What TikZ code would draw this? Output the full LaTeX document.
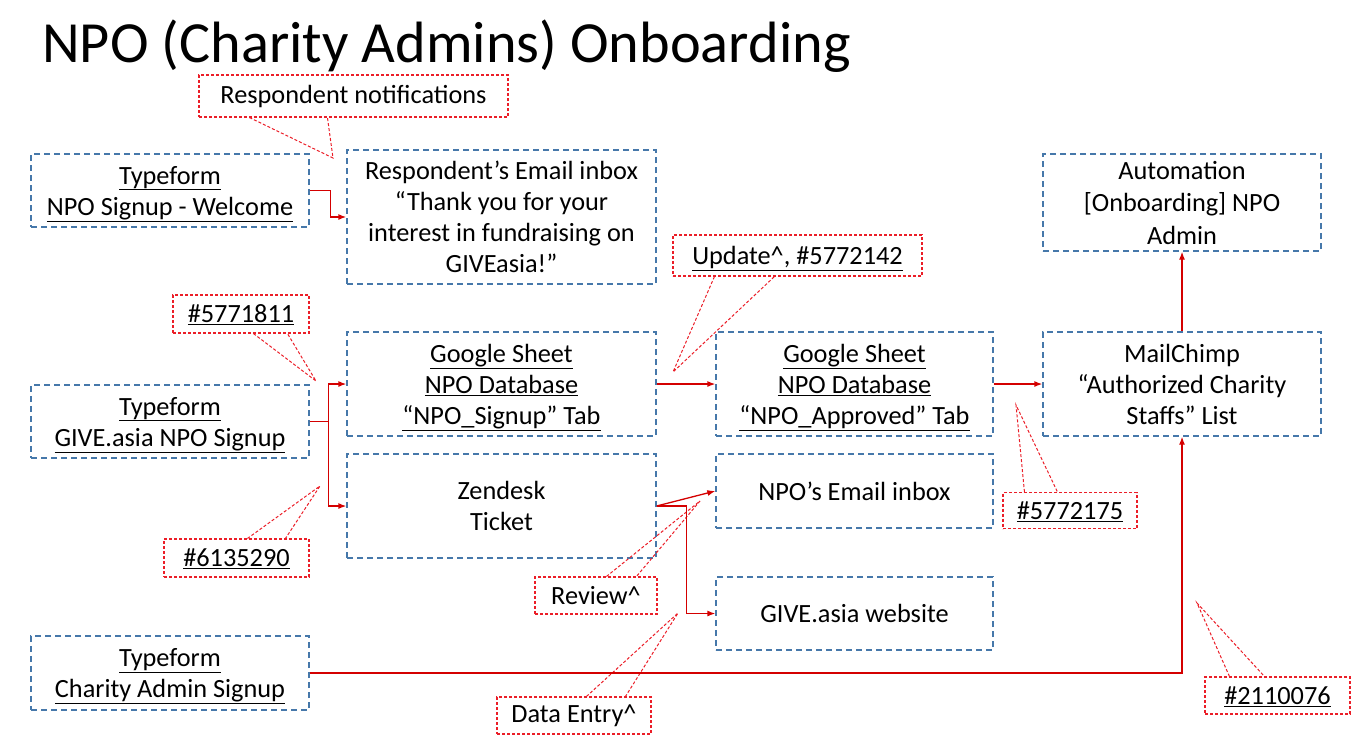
\documentclass[tikz,border=0pt]{standalone}
\usepackage{fontspec}
\setmainfont{Carlito}
\usetikzlibrary{arrows.meta}
\definecolor{boxblue}{RGB}{70,120,170}
\definecolor{notered}{RGB}{235,30,40}
\definecolor{flowred}{RGB}{212,0,0}
\newcommand{\undl}[1]{\raisebox{0pt}[\height][0pt]{\underline{#1}}}

\begin{document}
\begin{tikzpicture}[x=1pt,y=-1pt,
		txt/.style={font=\fontsize{26.3}{31}\selectfont, align=center, inner sep=0pt},
		bbox/.style={txt, draw=boxblue, line width=1.3pt, dash pattern=on 6pt off 4pt},
		cbox/.style={txt, draw=notered, line width=1.1pt, dash pattern=on 3pt off 2pt},
		flow/.style={draw=flowred, line width=1.3pt, -{Latex[length=8pt,width=6pt]}},
		callout/.style={draw=notered, line width=1pt, dash pattern=on 3pt off 2pt}]
		\useasboundingbox (0,0) rectangle (1351,739);
		
		\node[txt, anchor=base west, font=\fontsize{58.3}{60}\selectfont] (title) at (42,62) {NPO (Charity Admins) Onboarding};
		
		\node[bbox, minimum width=278, minimum height=73] (welcome) at (170,190.5) {\undl{Typeform}\\\undl{NPO Signup - Welcome}};
		\node[bbox, minimum width=309, minimum height=134] (respinbox) at (501.5,217) {Respondent’s Email inbox\\“Thank you for your\\interest in fundraising on\\GIVEasia!”};
		\node[bbox, minimum width=278, minimum height=97, font=\fontsize{26.3}{32.5}\selectfont] (automation) at (1182,202.5) {Automation\\{[}Onboarding{]} NPO\\Admin};
		\node[bbox, minimum width=278, minimum height=73] (npoform) at (170,421.5) {\undl{Typeform}\\\undl{GIVE.asia NPO Signup}};
		\node[bbox, minimum width=309, minimum height=104] (gsignup) at (501.5,384) {\undl{Google Sheet}\\\undl{NPO Database}\\\undl{“NPO\_Signup” Tab}};
		\node[bbox, minimum width=277, minimum height=104] (gapproved) at (854.5,384) {\undl{Google Sheet}\\\undl{NPO Database}\\\undl{“NPO\_Approved” Tab}};
		\node[bbox, minimum width=278, minimum height=104] (mailchimp) at (1182,384) {MailChimp\\“Authorized Charity\\Staffs” List};
		\node[bbox, minimum width=309, minimum height=104] (zendesk) at (501.5,506) {Zendesk\\Ticket};
		\node[bbox, minimum width=277, minimum height=74] (npoinbox) at (854.5,491) {NPO’s Email inbox};
		\node[bbox, minimum width=277, minimum height=73] (website) at (854.5,613.5) {GIVE.asia website};
		\node[bbox, minimum width=278, minimum height=74] (adminform) at (170,673) {\undl{Typeform}\\\undl{Charity Admin Signup}};
		
		\node[cbox, minimum width=309, minimum height=42] (notif) at (353.5,96) {Respondent notifications};
		\node[cbox, minimum width=136, minimum height=38] (c5771811) at (241,314) {\undl{\#5771811}};
		\node[cbox, minimum width=249, minimum height=41] (c5772142) at (797.5,255.5) {\undl{Update\textasciicircum, \#5772142}};
		\node[cbox, minimum width=145, minimum height=38] (c6135290) at (236.5,558) {\undl{\#6135290}};
		\node[cbox, minimum width=122, minimum height=37] (review) at (596,595.5) {Review\textasciicircum};
		\node[cbox, minimum width=154, minimum height=37] (dataentry) at (574,715.5) {Data Entry\textasciicircum};
		\node[cbox, minimum width=134, minimum height=36] (c5772175) at (1070,510.5) {\undl{\#5772175}};
		\node[cbox, minimum width=145, minimum height=37] (c2110076) at (1277.5,695.5) {\undl{\#2110076}};
		
		\coordinate (notiftip) at (333,158);
		\coordinate (tip5771811) at (316,381);
		\coordinate (tip5772142) at (673,372);
		\coordinate (tip6135290) at (320,486);
		\coordinate (reviewtip) at (700,501);
		\coordinate (entrytip) at (678,613);
		\coordinate (tip5772175) at (1016,405);
		\coordinate (tip2110076) at (1197,603);
		
		\draw[callout] ([xshift=51pt]notif.south west) -- (notiftip) -- ([xshift=129pt]notif.south west);
		\draw[callout] ([xshift=81pt]c5771811.south west) -- (tip5771811) -- ([xshift=115pt]c5771811.south west);
		\draw[callout] ([xshift=42pt]c5772142.south west) -- (tip5772142) -- ([xshift=102pt]c5772142.south west);
		\draw[callout] ([xshift=84pt]c6135290.north west) -- (tip6135290) -- ([xshift=122pt]c6135290.north west);
		\draw[callout] ([xshift=72pt]review.north west) -- (reviewtip) -- ([xshift=102pt]review.north west);
		\draw[callout] ([xshift=90pt]dataentry.north west) -- (entrytip) -- ([xshift=129pt]dataentry.north west);
		\draw[callout] ([xshift=22pt]c5772175.north west) -- (tip5772175) -- ([xshift=55pt]c5772175.north west);
		\draw[callout] ([xshift=25pt]c2110076.north west) -- (tip2110076) -- ([xshift=60pt]c2110076.north west);
		
		\draw[flow] (welcome.east) -- ++(21,0) |- (respinbox.west);
		\draw[flow] (npoform.east) -- ++(19,0) |- (gsignup.west);
		\draw[flow] (npoform.east) -- ++(19,0) |- (zendesk.west);
		\draw[flow] (gsignup.east) -- (gapproved.west);
		\draw[flow] (gapproved.east) -- (mailchimp.west);
		\draw[flow] (mailchimp.north) -- (automation.south);
		\draw[flow] (adminform.east) -| (mailchimp.south);
		\draw[flow] (zendesk.east) -- (npoinbox.west);
		\draw[flow] (zendesk.east) -- ++(30,0) |- (website.west);
	\end{tikzpicture}
\end{document}
